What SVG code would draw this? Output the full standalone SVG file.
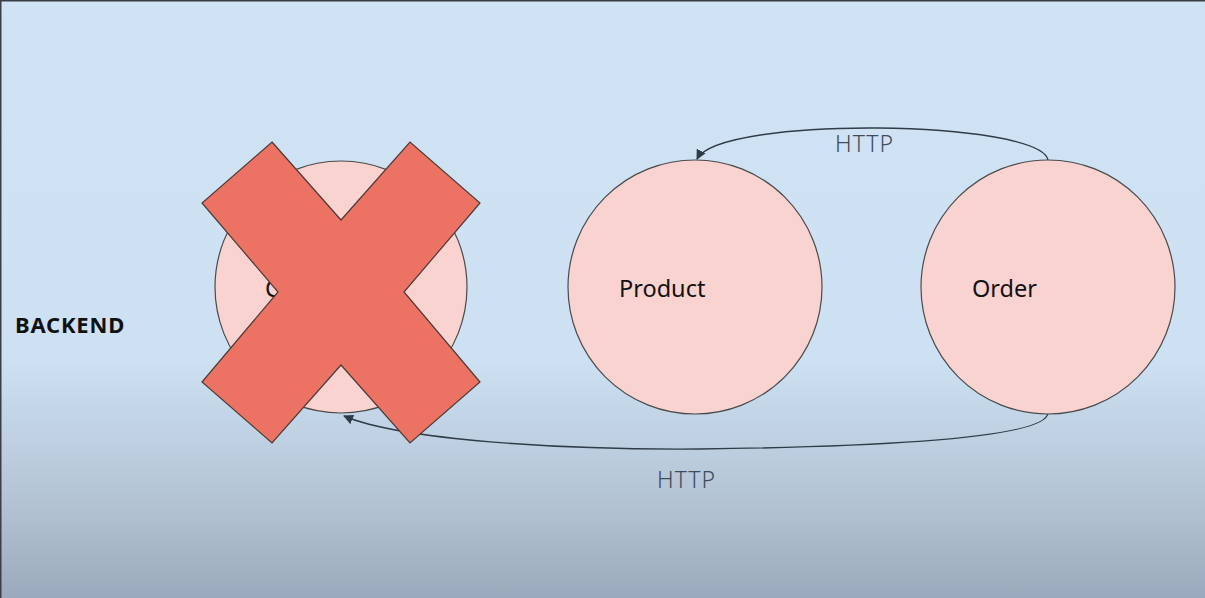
<svg xmlns="http://www.w3.org/2000/svg" width="1205" height="598" viewBox="0 0 1205 598">
<defs>
<linearGradient id="bg" x1="0" y1="0" x2="0" y2="1">
<stop offset="0" stop-color="#d0e3f4"/>
<stop offset="0.6" stop-color="#cde1f3"/>
<stop offset="0.68" stop-color="#c4d7e9"/>
<stop offset="0.84" stop-color="#b3c3d4"/>
<stop offset="1" stop-color="#9aaabc"/>
</linearGradient>
<marker id="arr" viewBox="0 0 10 10" refX="9" refY="5" markerWidth="10" markerHeight="10" markerUnits="userSpaceOnUse" orient="auto">
<path d="M0,0 L10,5 L0,10 z" fill="#2f3b46"/>
</marker>
<style>
.node{fill:#f9d3d0;stroke:#4a4a4a;stroke-width:1.2}
.lbl{font-family:"Noto Sans","Open Sans",sans-serif;font-size:23.5px;fill:#111}
.http{font-family:"Noto Sans","Open Sans",sans-serif;font-size:23px;letter-spacing:1px;fill:#3f4d5a;font-weight:300}
.edge{fill:none;stroke:#2f3b46;stroke-width:1.4}
</style>
</defs>
<rect x="0" y="0" width="1205" height="598" fill="url(#bg)"/>
<rect x="0" y="0" width="1205" height="1.5" fill="#3a3f45"/>
<rect x="0" y="0" width="1.5" height="598" fill="#3a3f45"/>
<text x="15" y="333" font-family="'Noto Sans','Open Sans',sans-serif" font-size="22" font-weight="bold" letter-spacing="0.8" fill="#111">BACKEND</text>
<g id="connectors">
<path class="edge" d="M1048,160 C1040,120 720,115 697,159" marker-end="url(#arr)"/>
<path class="edge" d="M1048,413 C1046,440 860,447 700,449 C560,450 400,440 344,416" marker-end="url(#arr)"/>
<text class="http" x="835" y="152">HTTP</text>
<text class="http" x="657" y="488">HTTP</text>
</g>
<g id="node-c">
<circle class="node" cx="341" cy="287" r="126"/>
<text class="lbl" x="265" y="297">C</text>
</g>
<g id="node-product">
<circle class="node" cx="695" cy="287" r="127"/>
<text class="lbl" x="619" y="297">Product</text>
</g>
<g id="node-order">
<circle class="node" cx="1048" cy="287" r="127"/>
<text class="lbl" x="972" y="297">Order</text>
</g>
<g id="cross">
<polygon points="272,142 341,220 410,142 480,203 404,292 480,382 410,443 341,365 272,443 202,382 278,292 202,203" fill="#ec7263" stroke="#4a3a38" stroke-width="1.2"/>
</g>
</svg>
